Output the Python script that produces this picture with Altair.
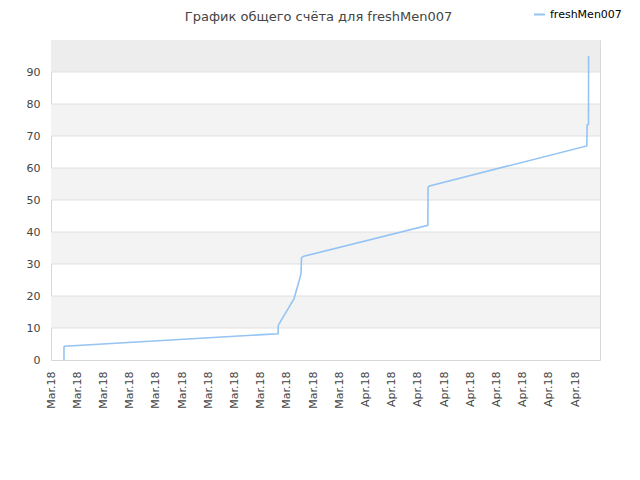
import altair as alt
import pandas as pd

TITLE = "График общего счёта для freshMen007"
SERIES = "freshMen007"

# line data (UTC timestamps, cumulative score)
TIMES = [
    "2018-03-08T23:45:00Z", "2018-03-08T23:50:00Z", "2018-03-09T00:45:00Z",
    "2018-03-25T07:55:00Z", "2018-03-25T08:24:00Z", "2018-03-26T13:12:00Z",
    "2018-03-26T22:48:00Z", "2018-03-27T01:55:00Z", "2018-03-27T02:53:00Z",
    "2018-03-27T06:58:00Z", "2018-04-05T18:14:00Z", "2018-04-05T18:43:00Z",
    "2018-04-05T21:22:00Z", "2018-04-17T21:22:00Z", "2018-04-17T22:05:00Z",
    "2018-04-18T00:29:00Z", "2018-04-18T00:43:00Z",
]
SCORES = [0, 4.1, 4.3, 8.2, 10.9, 19.2, 24.9, 27.0, 32.0, 32.4,
          42.1, 54.0, 54.4, 66.9, 73.4, 73.6, 95.0]

# x tick dates (every two days)
TICK_DATES = [(3, 8), (3, 10), (3, 12), (3, 14), (3, 16), (3, 18), (3, 20),
              (3, 22), (3, 24), (3, 26), (3, 28), (3, 30), (4, 1), (4, 3),
              (4, 5), (4, 7), (4, 9), (4, 11), (4, 13), (4, 15), (4, 17)]
Y_TICKS = [0, 10, 20, 30, 40, 50, 60, 70, 80, 90]
GRID_LINES = [10, 20, 30, 40, 50, 60, 70, 80, 90]
BAND_LO = [10, 30, 50, 70]
BAND_HI = [20, 40, 60, 80]
TOP_BAND = [90, 100]

W, H = 549, 320
FONT = "DejaVu Sans"

xdom = [alt.DateTime(year=2018, month=3, date=8, utc=True),
        alt.DateTime(year=2018, month=4, date=18, hours=21, minutes=36, utc=True)]
xticks = [alt.DateTime(year=2018, month=m, date=d, utc=True) for m, d in TICK_DATES]

line_df = pd.DataFrame({"t": TIMES, "score": SCORES, "series": [SERIES] * len(TIMES)})
bands_df = pd.DataFrame({"lo": BAND_LO, "hi": BAND_HI})
top_df = pd.DataFrame({"lo": [TOP_BAND[0]], "hi": [TOP_BAND[1]]})
grid_df = pd.DataFrame({"v": GRID_LINES})
title_df = pd.DataFrame({"title": [TITLE]})

yscale = alt.Scale(domain=[0, 100], nice=False)

yaxis = alt.Axis(values=Y_TICKS, grid=False, domain=False, ticks=False,
                 labelPadding=11, labelFont=FONT, labelFontSize=11,
                 labelColor="#444444", title=None)

top = alt.Chart(top_df).mark_rect(color="#ededed").encode(
    x=alt.value(0), x2=alt.value(W),
    y=alt.Y("lo:Q", scale=yscale, axis=yaxis),
    y2="hi:Q",
)
bands = alt.Chart(bands_df).mark_rect(color="#f3f3f3").encode(
    x=alt.value(0), x2=alt.value(W),
    y=alt.Y("lo:Q", scale=yscale, axis=yaxis),
    y2="hi:Q",
)
grid = alt.Chart(grid_df).mark_rule(color="#e0e0e0", strokeWidth=1).encode(
    x=alt.value(0), x2=alt.value(W),
    y=alt.Y("v:Q", scale=yscale, axis=yaxis),
)

line = alt.Chart(line_df).mark_line(strokeWidth=1.6, interpolate="linear").encode(
    x=alt.X("t:T", scale=alt.Scale(type="utc", domain=xdom),
            axis=alt.Axis(values=xticks,
                          labelExpr="utcFormat(datum.value, '%b.%y')",
                          labelAngle=270, labelAlign="right", labelBaseline="middle",
                          labelPadding=11, grid=False, domain=False, ticks=False,
                          labelFont=FONT, labelFontSize=11, labelColor="#444444",
                          labelOverlap=False, title=None)),
    y=alt.Y("score:Q", scale=yscale, axis=yaxis),
    color=alt.Color("series:N", scale=alt.Scale(range=["#95c4f3"]),
                    legend=alt.Legend(orient="none", legendX=482, legendY=-32,
                                      title=None, symbolType="stroke",
                                      symbolStrokeWidth=2, symbolSize=120,
                                      labelFont=FONT, labelFontSize=11,
                                      labelColor="#000000", padding=0)),
)

title = alt.Chart(title_df).mark_text(font=FONT, fontSize=13, color="#444444",
                                      align="center", baseline="alphabetic").encode(
    x=alt.value(W / 2 - 7), y=alt.value(-19), text="title:N",
)

chart = alt.layer(top, bands, grid, line, title).properties(
    width=W, height=H,
    autosize=alt.AutoSizeParams(type="none"),
    padding={"left": 43, "top": 32, "right": 32, "bottom": 112},
).configure_view(stroke="#d8d8d8", strokeWidth=1)

chart.save("out.html", embed_options={"renderer": "svg", "actions": False})
